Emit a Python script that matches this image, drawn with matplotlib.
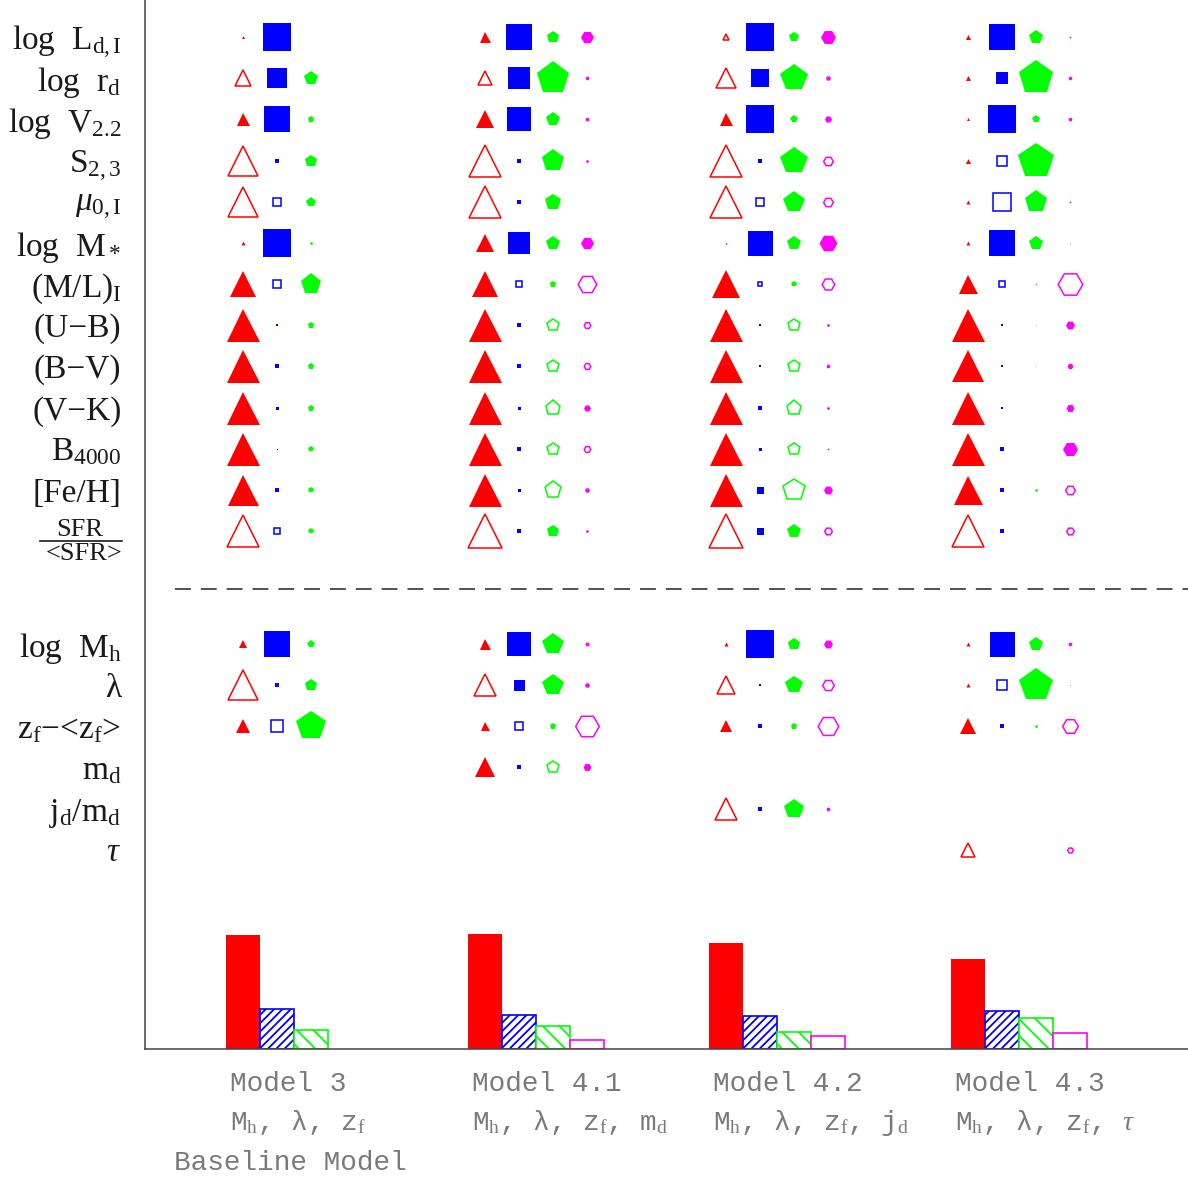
import numpy as np
import matplotlib
matplotlib.use('Agg')
import matplotlib.pyplot as plt
from matplotlib.lines import Line2D

plt.rcParams['font.family'] = ['Liberation Serif', 'DejaVu Serif']
plt.rcParams['mathtext.fontset'] = 'custom'
plt.rcParams['mathtext.rm'] = 'Liberation Serif'
plt.rcParams['mathtext.it'] = 'Liberation Serif:italic'
plt.rcParams['mathtext.bf'] = 'Liberation Serif:bold'
plt.rcParams['hatch.linewidth'] = 1.3

# row labels (upper block: observables, lower block: model parameters)
upper_labels = [r'log  L$_\mathrm{d,I}$', r'log  r$_\mathrm{d}$', r'log  V$_\mathrm{2.2}$',
                r'S$_\mathrm{2,3}$', r'$\mu_\mathrm{0,I}$', r'log  M$_*$', r'(M/L)$_\mathrm{I}$',
                '(U−B)', '(B−V)', '(V−K)', r'B$_\mathrm{4000}$', '[Fe/H]', '']
lower_labels = [r'log  M$_\mathrm{h}$', 'λ', r'z$_\mathrm{f}$−<z$_\mathrm{f}$>',
                r'm$_\mathrm{d}$', r'j$_\mathrm{d}$/m$_\mathrm{d}$', r'$\tau$']

models = ['Model 3', 'Model 4.1', 'Model 4.2', 'Model 4.3']
model_params = [r'M$_\mathrm{h}$, λ, z$_\mathrm{f}$',
                r'M$_\mathrm{h}$, λ, z$_\mathrm{f}$, m$_\mathrm{d}$',
                r'M$_\mathrm{h}$, λ, z$_\mathrm{f}$, j$_\mathrm{d}$',
                r'M$_\mathrm{h}$, λ, z$_\mathrm{f}$, $\tau$']

# symbol sizes (px width), + filled, - open, 0 none; 13 upper rows then 6 lower rows
red_m3 = [3, -17, 13, -31, -31, 4, 26, 33, 33, 33, 33, 31, -33, 8, -31, 14, 0, 0, 0]
blue_m3 = [28, 20, 26, 4, -9, 28, -10, 2, 4, 3, 1, 4, -7, 27, 4, -13, 0, 0, 0]
green_m3 = [0, 14, 6, 12, 9, 3, 20, 6, 6, 6, 5, 5, 5, 7, 12, 29, 0, 0, 0]
mag_m3 = [0] * 19

red_m41 = [11, -16, 18, -33, -34, 18, 26, 33, 33, 33, 33, 33, -35, 11, -23, 9, 20, 0, 0]
blue_m41 = [26, 23, 24, 4, 5, 22, -8, 4, 4, 3, 4, 3, 4, 24, 11, -9, 5, 0, 0]
green_m41 = [12, 32, 13, 22, 16, 13, 6, -13, -13, -16, -13, -18, 12, 21, 21, 6, -13, 0, 0]
mag_m41 = [13, 4, 4, 3, 0, 13, -20, -8, -8, 7, -8, 5, 3, -4, 5, -25, 8, 0, 0]

red_m42 = [-7, -22, 13, -33, -33, 2, 28, 33, 33, 33, 33, 33, -35, 4, -19, 12, 0, -23, 0]
blue_m42 = [28, 18, 28, 5, -9, 25, -6, 2, 2, 4, 3, 7, 7, 28, 2, 4, 0, 4, 0]
green_m42 = [10, 27, 7, 27, 21, 13, 5, -13, -13, -16, -13, -23, 13, 12, 17, 6, 0, 19, 0]
mag_m42 = [15, 5, 7, -11, -11, 18, -14, 3, 4, 3, 2, 9, -9, 9, -13, -22, 0, 4, 0]

red_m43 = [5, 5, 3, 5, 4, 4, 19, 33, 32, 33, 33, 29, -33, 4, 4, 16, 0, 0, -15]
blue_m43 = [26, 12, 28, -12, -19, 26, -8, 2, 2, 2, 4, 5, 4, 25, -12, 5, 0, 0, 0]
green_m43 = [13, 34, 7, 35, 22, 13, 2, 1, 1, 0, 0, 3, 0, 13, 33, 3, 0, 0, 0]
mag_m43 = [2, 4, 4, 0, 2, 1, -26, 9, 6, 8, 15, -11, -9, 4, 1, -17, 0, 0, -7]

# bar heights (row units)
bar_red = [2.76, 2.79, 2.58, 2.19]
bar_blue = [0.96, 0.82, 0.80, 0.93]
bar_green = [0.45, 0.56, 0.42, 0.75]
bar_mag = [0.0, 0.23, 0.32, 0.39]

sizes = [[red_m3, blue_m3, green_m3, mag_m3],
         [red_m41, blue_m41, green_m41, mag_m41],
         [red_m42, blue_m42, green_m42, mag_m42],
         [red_m43, blue_m43, green_m43, mag_m43]]
colors = ['#ff0000', '#0000ff', '#00ff00', '#ff00ff']
markers = ['^', 's', 'p', 'H']
shape_fac = [1.0, 1.0, 1 / 0.951, 1.0]
dx = 0.141

fig = plt.figure(figsize=(11.88, 11.81), dpi=100)
ax = fig.add_axes([145 / 1188, 132 / 1181, 1043 / 1188, 1049 / 1181])
xmin = -0.406
xmax = xmin + 1043 / 241.5
ax.set_xlim(xmin, xmax)
ax.set_ylim(0, 1049 / 41.17)

y_upper = 24.58 - np.arange(13)
y_lower = 9.84 - np.arange(6)
y_rows = np.concatenate([y_upper, y_lower])

for i in range(len(models)):
    for j in range(4):
        for k, v in enumerate(sizes[i][j]):
            if v == 0:
                continue
            ms = abs(v) * 0.72 * shape_fac[j]
            if v > 0:
                ax.plot(i + j * dx, y_rows[k], marker=markers[j], ms=ms, mfc=colors[j],
                        mec=colors[j], mew=0, ls='none')
            else:
                ax.plot(i + j * dx, y_rows[k], marker=markers[j], ms=ms - 1, mfc='none',
                        mec=colors[j], mew=1.1, ls='none')

xb = np.arange(len(models))
ax.bar(xb, bar_red, width=dx, color=colors[0], lw=0)
ax.bar(xb + dx, bar_blue, width=dx, facecolor='white', edgecolor=colors[1], hatch='////', lw=1.2)
ax.bar(xb + 2 * dx, bar_green, width=dx, facecolor='white', edgecolor=colors[2], hatch='\\\\', lw=1.2)
for i in range(len(models)):
    if bar_mag[i] > 0:
        ax.bar(xb[i] + 3 * dx, bar_mag[i], width=dx, facecolor='white', edgecolor=colors[3], lw=1.2)

ax.plot([-0.28, xmax], [11.17, 11.17], color='#333333', lw=1.2, dashes=(9.5, 6))

ax.set_yticks(y_rows, upper_labels + lower_labels)
ax.tick_params(axis='y', length=0, pad=17, labelsize=24, labelcolor='#1a1a1a')
ax.set_xticks([])
for s in ['top', 'right']:
    ax.spines[s].set_visible(False)
for s in ['left', 'bottom']:
    ax.spines[s].set_color('#444444')
    ax.spines[s].set_linewidth(1.1)

# SFR / <SFR> fraction label
fig.text(80 / 1188, 1 - 530 / 1181, 'SFR', ha='center', va='center', fontsize=19, color='#1a1a1a')
fig.text(84 / 1188, 1 - 554 / 1181, '<SFR>', ha='center', va='center', fontsize=19, color='#1a1a1a')
fig.add_artist(Line2D([40 / 1188, 122 / 1188], [1 - 541 / 1181] * 2, color='#1a1a1a', lw=1.2))

# model captions
for i in range(len(models)):
    ax.text(i - 0.054, -0.85, models[i], ha='left', va='center', family='Liberation Mono',
            fontsize=20, color='#7a7a7a', clip_on=False)
    ax.text(i - 0.054, -1.79, model_params[i], ha='left', va='center', family='Liberation Mono',
            fontsize=20, color='#7a7a7a', clip_on=False)
ax.text(0.195, -2.76, 'Baseline Model', ha='center', va='center', family='Liberation Mono',
        fontsize=20, color='#7a7a7a', clip_on=False)

fig.savefig('out.png', dpi=100)
